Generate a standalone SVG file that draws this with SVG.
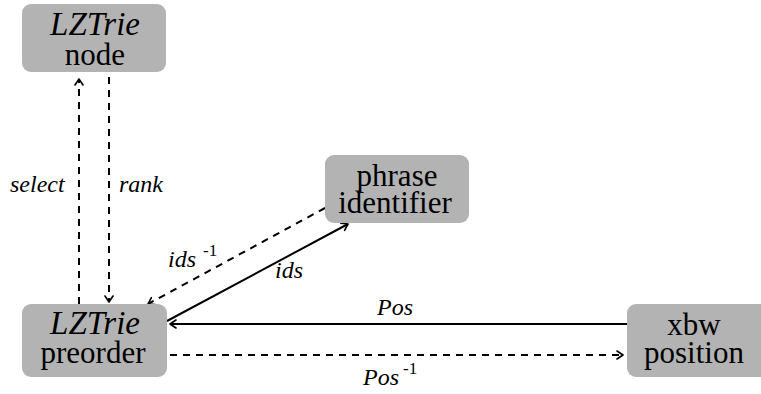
<svg xmlns="http://www.w3.org/2000/svg" width="761" height="394" viewBox="0 0 761 394">
<defs>
<marker id="ah" viewBox="0 0 10 10" refX="9" refY="5" markerWidth="10" markerHeight="10" markerUnits="userSpaceOnUse" orient="auto">
<path d="M3,1 L9,5 L3,9" fill="none" stroke="#000" stroke-width="1.6" stroke-linecap="round" stroke-linejoin="round"/>
</marker>
</defs>
<rect width="761" height="394" fill="#fff"/>
<g id="connectors" stroke="#000" stroke-width="2" fill="none">
<line stroke-dasharray="7,6" x1="79" y1="304" x2="79" y2="79" marker-end="url(#ah)"/>
<line stroke-dasharray="7,6" x1="109" y1="77" x2="109" y2="302" marker-end="url(#ah)"/>
<line stroke-dasharray="7,6" x1="325" y1="208" x2="148" y2="304" marker-end="url(#ah)"/>
<line x1="167" y1="321" x2="348" y2="224" marker-end="url(#ah)"/>
<line x1="627" y1="324" x2="170" y2="324" marker-end="url(#ah)"/>
<line stroke-dasharray="7,6" x1="170" y1="355" x2="623" y2="355" marker-end="url(#ah)"/>
</g>
<g id="labels" fill="#000">
<text font-family="Liberation Serif" font-style="italic" font-size="24" x="10" y="192">select</text>
<text font-family="Liberation Serif" font-style="italic" font-size="24" x="119" y="192">rank</text>
<text font-family="Liberation Serif" font-style="italic" font-size="24" x="168" y="267">ids</text>
<text font-family="Liberation Serif" font-size="17" x="203" y="256">-1</text>
<text font-family="Liberation Serif" font-style="italic" font-size="24" x="275" y="278">ids</text>
<text font-family="Liberation Serif" font-style="italic" font-size="24" x="377" y="315">Pos</text>
<text font-family="Liberation Serif" font-style="italic" font-size="24" x="363" y="385">Pos</text>
<text font-family="Liberation Serif" font-size="17" x="403" y="374">-1</text>
</g>
<g id="node-lztrie-node" fill="#000">
<rect fill="#b3b3b3" x="22" y="4" width="144" height="68" rx="9"/>
<text font-family="Liberation Serif" font-size="33" text-anchor="middle" x="95" y="35" font-style="italic">LZTrie</text>
<text font-family="Liberation Serif" font-size="31" text-anchor="middle" x="95" y="65">node</text>
</g>
<g id="node-lztrie-preorder" fill="#000">
<rect fill="#b3b3b3" x="22" y="304" width="145" height="73" rx="9"/>
<text font-family="Liberation Serif" font-size="33" text-anchor="middle" x="95" y="334" font-style="italic">LZTrie</text>
<text font-family="Liberation Serif" font-size="31" text-anchor="middle" x="93" y="363">preorder</text>
</g>
<g id="node-phrase-identifier" fill="#000">
<rect fill="#b3b3b3" x="325" y="155" width="144" height="68" rx="9"/>
<text font-family="Liberation Serif" font-size="31" text-anchor="middle" x="397" y="186">phrase</text>
<text font-family="Liberation Serif" font-size="31" text-anchor="middle" x="395" y="213">identifier</text>
</g>
<g id="node-xbw-position" fill="#000">
<rect fill="#b3b3b3" x="627" y="304" width="150" height="73" rx="9"/>
<text font-family="Liberation Serif" font-size="31" text-anchor="middle" x="694" y="335">xbw</text>
<text font-family="Liberation Serif" font-size="31" text-anchor="middle" x="694" y="363">position</text>
</g>
</svg>
